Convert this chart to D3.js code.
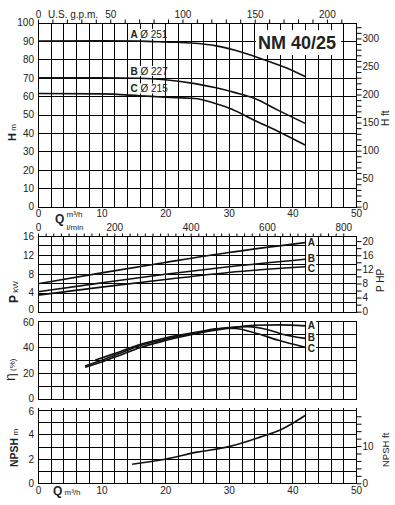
<!DOCTYPE html>
<html>
<head>
<meta charset="utf-8">
<script src="https://cdn.jsdelivr.net/npm/d3@7"></script>
<style>
body { margin: 0; background: #fff; }
svg text { font-family: "Liberation Sans", Arial, Helvetica, sans-serif; fill: #222; }
</style>
</head>
<body>
<svg id="chart" width="395" height="505"></svg>
<script>
// ---- axis ticks -------------------------------------------------------
const qTicks = [0, 10, 20, 30, 40, 50];           // m³/h
const gpmTicks = [0, 50, 100, 150, 200];          // U.S. g.p.m.
const lminTicks = [0, 200, 400, 600, 800];        // l/min
const headTicks = [0, 10, 20, 30, 40, 50, 60, 70, 80, 90, 100];
const headFtTicks = [0, 50, 100, 150, 200, 250, 300];
const powerTicks = [0, 4, 8, 12, 16];
const powerHpTicks = [0, 4, 8, 12, 16, 20];
const effTicks = [0, 20, 40, 60];
const npshTicks = [0, 2, 4, 6];
const npshFtTicks = [0, 10];

// ---- impellers --------------------------------------------------------
const impellers = ['A', 'B', 'C'];
const diameters = [251, 227, 215];

// H (m) against Q (m³/h)
const headA = [[0, 90], [10, 90.2], [16, 90], [20, 89.5], [24.7, 88.8], [28, 87.4], [31, 85], [35.7, 79.7], [39, 75.5], [42, 70.7]];
const headB = [[0, 70], [10, 70], [16, 69.8], [20, 69], [24.7, 66.9], [28, 64.6], [31, 62], [34, 58.9], [37.7, 52.5], [42, 45.3]];
const headC = [[0, 61.5], [10, 61.3], [16, 60.3], [20, 59.5], [24.7, 58.8], [27.5, 56.5], [30.5, 53], [34, 47], [37.7, 41], [42, 33.5]];

// P (kW) against Q
const powerA = [[0, 5.9], [10, 8.2], [20, 10.4], [30, 12.5], [42, 14.6]];
const powerB = [[0, 4.2], [10, 6.1], [20, 7.9], [30, 9.5], [42, 11.1]];
const powerC = [[0, 3.5], [10, 5.2], [20, 6.8], [30, 8.3], [42, 9.5]];

// efficiency (%) against Q
const effA = [[7.4, 24.5], [10, 28.5], [13, 34], [16, 39.5], [20, 45], [25, 50.5], [30, 54.5], [34, 56.8], [38, 57], [42, 56.3]];
const effB = [[7.4, 25.5], [10, 30], [13, 35.5], [16, 41], [20, 46], [25, 51], [30, 55], [33, 55.7], [36, 53.5], [38, 50.5], [42, 46.7]];
const effC = [[9, 30], [12, 35], [16, 42], [20, 47], [25, 51.5], [29, 54.4], [31, 54.2], [34, 51], [37.7, 45.4], [42, 39.8]];

// NPSH (m) against Q
const npsh = [[14.8, 1.56], [20, 1.97], [25, 2.55], [30, 3.0], [35, 3.8], [38, 4.35], [40, 4.9], [42, 5.55]];

// ---- unit conversions for the secondary axes ---------------------------
const M3H_TO_GPM = 4.4029;
const M3H_TO_LMIN = 16.6667;
const M_TO_FT = 3.2808;
const KW_TO_HP = 1 / 0.7457;

const svg = d3.select('#chart');

const x = d3.scaleLinear().domain([0, 50]).range([38, 356]);
const yH = d3.scaleLinear().domain([0, 100]).range([206.7, 22.7]);
const yP = d3.scaleLinear().domain([0, 16]).range([311.7, 236]);
const yE = d3.scaleLinear().domain([0, 60]).range([399.3, 321]);
const yN = d3.scaleLinear().domain([0, 6]).range([483.3, 410]);

const crisp = (v) => Math.round(v) + 0.5;
const intFmt = d3.format('d');

/*
 * Grid every 2 m³/h across, `step` units down, plus a heavier frame.
 */
function drawGrid(y, step, stubTop) {
    const g = svg.append('g').attr('shape-rendering', 'crispEdges');
    const [y0, y1] = y.domain();
    g.selectAll('line.v')
    .data(d3.range(0, 50.001, 2))
    .enter()
    .append('line')
    .attr('x1', (d) => crisp(x(d)))
    .attr('x2', (d) => crisp(x(d)))
    .attr('y1', crisp(y(y1)) - stubTop)
    .attr('y2', crisp(y(y0)))
    .attr('stroke', '#000')
    .attr('stroke-width', 1.2);
    g.selectAll('line.h')
    .data(d3.range(y0, y1 + 0.001, step))
    .enter()
    .append('line')
    .attr('x1', crisp(x(0)))
    .attr('x2', crisp(x(50)))
    .attr('y1', (d) => crisp(y(d)))
    .attr('y2', (d) => crisp(y(d)))
    .attr('stroke', '#000')
    .attr('stroke-width', 1.2);
    g.append('rect')
    .attr('x', crisp(x(0)))
    .attr('y', crisp(y(y1)))
    .attr('width', crisp(x(50)) - crisp(x(0)))
    .attr('height', crisp(y(y0)) - crisp(y(y1)))
    .attr('fill', 'none')
    .attr('stroke', '#000')
    .attr('stroke-width', 1.5);
}

function styleAxis(g, size) {
    g.select('.domain').remove();
    g.selectAll('line').attr('stroke', '#000').attr('stroke-width', 1);
    g.selectAll('text').attr('font-size', size || 10).attr('fill', '#222')
    .attr('font-family', '"Liberation Sans", Arial, sans-serif');
    return g;
}

// nudge: per-value vertical shift (px) of a label, keeps stacked panels' end labels apart
function leftAxis(y, ticks, nudge) {
    const g = svg.append('g')
    .attr('transform', `translate(${x(0)},0)`)
    .call(d3.axisLeft(y).tickValues(ticks).tickSize(0).tickPadding(4).tickFormat(intFmt))
    .call((s) => styleAxis(s));
    if (nudge) {
        g.selectAll('.tick text').attr('y', (d) => nudge[d] || 0);
    }
}

function rightAxis(yBase, factor, maxUnit, minorStep, labels) {
    const [d0, d1] = yBase.domain();
    const s = d3.scaleLinear().domain([d0 * factor, d1 * factor]).range(yBase.range());
    svg.append('g')
    .attr('transform', `translate(${crisp(x(50))},0)`)
    .call(d3.axisRight(s)
    .tickValues(d3.range(0, maxUnit + 0.001, minorStep))
    .tickSize(5)
    .tickPadding(1)
    .tickFormat((d) => (labels.includes(d) ? d : '')))
    .call((g) => styleAxis(g));
}

function curve(data, y, width) {
    svg.append('path')
    .datum(data)
    .attr('fill', 'none')
    .attr('stroke', '#111')
    .attr('stroke-width', width || 1.6)
    .attr('stroke-linejoin', 'round')
    .attr('d', d3.line()
    .x((d) => x(d[0]))
    .y((d) => y(d[1]))
    .curve(d3.curveMonotoneX));
}

function endLabel(name, xPos, baseline) {
    svg.append('rect')
    .attr('x', xPos - 1.5).attr('y', baseline - 8.5)
    .attr('width', 10).attr('height', 10)
    .attr('fill', '#fff');
    svg.append('text')
    .attr('x', xPos).attr('y', baseline)
    .attr('font-size', 10).attr('font-weight', 'bold')
    .text(name);
}

function rotatedTitle(xPos, yPos, parts) {
    const t = svg.append('text')
    .attr('transform', `translate(${xPos},${yPos}) rotate(-90)`);
    parts.forEach((p) => {
        t.append('tspan')
        .attr('font-size', p.size)
        .attr('font-weight', p.bold ? 'bold' : 'normal')
        .text(p.text);
    });
}

// ---- grids ------------------------------------------------------------
drawGrid(yH, 10, 0);
drawGrid(yP, 2, 0);
drawGrid(yE, 10, 0);
drawGrid(yN, 1, 3);

// ---- top panel: H -----------------------------------------------------
const gpm = d3.scaleLinear().domain([0, 50 * M3H_TO_GPM]).range(x.range());
svg.append('g')
.attr('transform', `translate(0,${crisp(yH(100))})`)
.call(d3.axisTop(gpm)
.tickValues(d3.range(0, 220, 10))
.tickSize(4)
.tickPadding(1.5)
.tickFormat((d) => (gpmTicks.includes(d) ? d : '')))
.call((g) => styleAxis(g));
svg.append('text').attr('x', 48).attr('y', 17.5).attr('font-size', 10).text('U.S. g.p.m.');

leftAxis(yH, headTicks);
rightAxis(yH, M_TO_FT, 320, 10, headFtTicks);

svg.append('g')
.attr('transform', `translate(0,${yH(0)})`)
.call(d3.axisBottom(x).tickValues(qTicks).tickSize(0).tickPadding(3.7))
.call((g) => styleAxis(g));
svg.append('text').attr('x', 55).attr('y', 223).attr('font-size', 12).attr('font-weight', 'bold').text('Q');
svg.append('text').attr('x', 66.5).attr('y', 217).attr('font-size', 8).text('m³/h');
svg.append('text').attr('x', 66.5).attr('y', 230.3).attr('font-size', 8).text('l/min');

// title box
svg.append('rect').attr('x', 256).attr('y', 30).attr('width', 85).attr('height', 25).attr('fill', '#fff');
svg.append('text').attr('x', 297).attr('y', 49).attr('text-anchor', 'middle')
.attr('font-size', 18).attr('font-weight', 'bold').attr('fill', '#111').text('NM 40/25');

// impeller labels on the H curves
const headLabelY = [37.5, 74.5, 92];
impellers.forEach((name, i) => {
    svg.append('rect').attr('x', 129).attr('y', headLabelY[i] - 8.5).attr('width', 33).attr('height', 10).attr('fill', '#fff');
    const t = svg.append('text').attr('x', 130.5).attr('y', headLabelY[i]).attr('font-size', 10);
    t.append('tspan').attr('font-weight', 'bold').text(name + ' ');
    t.append('tspan').text('Ø ' + diameters[i]);
});

[headA, headB, headC].forEach((d) => curve(d, yH));

rotatedTitle(15.5, 141, [{text: 'H', size: 11, bold: true}, {text: ' m', size: 8}]);
rotatedTitle(388.5, 126, [{text: 'H ft', size: 10}]);

// ---- P panel ----------------------------------------------------------
const lmin = d3.scaleLinear().domain([0, 50 * M3H_TO_LMIN]).range(x.range());
svg.append('g')
.attr('transform', `translate(0,${crisp(yP(16))})`)
.call(d3.axisTop(lmin)
.tickValues(d3.range(0, 820, 20))
.tickSize(3)
.tickPadding(2.5)
.tickFormat((d) => (lminTicks.includes(d) ? d : '')))
.call((g) => styleAxis(g));

leftAxis(yP, powerTicks, {0: -2.7});
rightAxis(yP, KW_TO_HP, 20, 2, powerHpTicks);

[powerA, powerB, powerC].forEach((d) => curve(d, yP));
const powerLabelY = [245.7, 261.7, 272.3];
impellers.forEach((name, i) => endLabel(name, 307.7, powerLabelY[i]));

rotatedTitle(18, 303, [{text: 'P', size: 12, bold: true}, {text: ' kW', size: 8}]);
rotatedTitle(383.5, 292, [{text: 'P HP', size: 10}]);

// ---- efficiency panel -------------------------------------------------
leftAxis(yE, effTicks, {60: 0.8, 0: -1.5});
[effA, effB, effC].forEach((d) => curve(d, yE));
const effLabelY = [329, 341, 352];
impellers.forEach((name, i) => endLabel(name, 307.7, effLabelY[i]));
rotatedTitle(14.5, 381, [{text: 'η', size: 14}, {text: ' (%)', size: 8}]);

// ---- NPSH panel -------------------------------------------------------
leftAxis(yN, npshTicks, {6: 0.8});
rightAxis(yN, M_TO_FT, 18, 2, npshFtTicks);
curve(npsh, yN);

svg.append('g')
.attr('transform', `translate(0,${yN(0)})`)
.call(d3.axisBottom(x).tickValues(qTicks).tickSize(0).tickPadding(3.8))
.call((g) => styleAxis(g));
svg.append('text').attr('x', 53).attr('y', 494.5).attr('font-size', 12).attr('font-weight', 'bold').text('Q');
svg.append('text').attr('x', 64.5).attr('y', 494.5).attr('font-size', 8).text('m³/h');

rotatedTitle(17.5, 467, [{text: 'NPSH', size: 10.5, bold: true}, {text: ' m', size: 8}]);
rotatedTitle(388.5, 467, [{text: 'NPSH ft', size: 9.5}]);
</script>
</body>
</html>
